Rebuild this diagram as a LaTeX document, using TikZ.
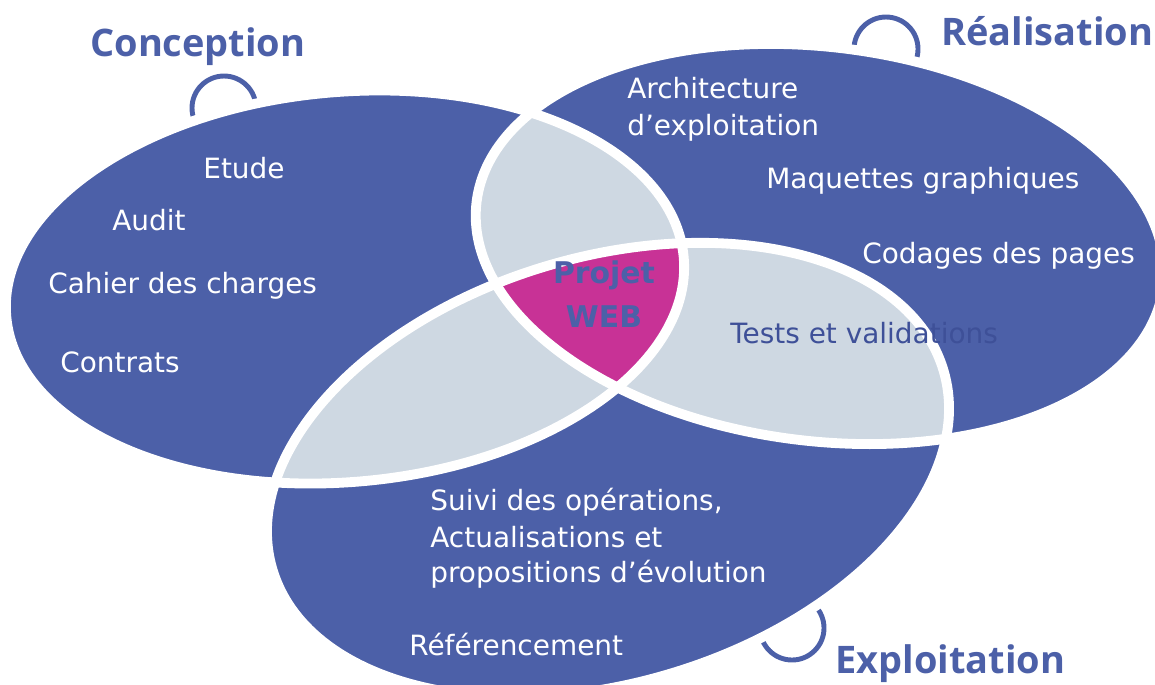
\documentclass[tikz,border=0pt]{standalone}
\usepackage{fontspec}
\setmainfont{DejaVu Sans}
\newfontfamily\titlefont{Open Sans}
\usetikzlibrary{positioning}

\definecolor{cycleblue}{RGB}{76,96,168}
\definecolor{inkblue}{RGB}{62,80,152}
\definecolor{overlap}{RGB}{206,216,226}
\definecolor{core}{RGB}{200,50,150}

\tikzset{
  % the three phases, each one a tilted ellipse
  conc/.style={rotate around={5:(345,287)}},
  real/.style={rotate around={-7:(820,244)}},
  expl/.style={rotate around={16.5:(608,470)}},
  rim/.style={draw=white, line width=5.6pt},
  hook/.style={draw=cycleblue, line width=2.8pt},
  item/.style={anchor=base west, inner sep=0pt, text=white,
    font=\fontsize{15.9}{18}\selectfont},
  phase/.style={anchor=base west, inner sep=0pt, text=cycleblue,
    font=\titlefont\bfseries\fontsize{21.6}{26}\selectfont}
}

\begin{document}
\begin{tikzpicture}[x=0.02cm, y=-0.02cm]
\useasboundingbox (0,0) rectangle (1155,684);

% little rings behind the ellipses
\draw[hook] (224,108) circle [radius=32];
\draw[hook] (886,49)  circle [radius=32];
\draw[hook] (792,628) circle [radius=32];

% phases
\fill[cycleblue, conc] (345,287) ellipse [x radius=340, y radius=195];
\fill[cycleblue, real] (820,244) ellipse [x radius=346, y radius=197];
\fill[cycleblue, expl] (608,470) ellipse [x radius=350, y radius=213];

% pairwise overlaps
\begin{scope}
  \clip[conc] (345,287) ellipse [x radius=340, y radius=195];
  \fill[overlap, real] (820,244) ellipse [x radius=346, y radius=197];
  \fill[overlap, expl] (608,470) ellipse [x radius=350, y radius=213];
\end{scope}
\begin{scope}
  \clip[real] (820,244) ellipse [x radius=346, y radius=197];
  \fill[overlap, expl] (608,470) ellipse [x radius=350, y radius=213];
\end{scope}

% common core
\begin{scope}
  \clip[conc] (345,287) ellipse [x radius=340, y radius=195];
  \clip[real] (820,244) ellipse [x radius=346, y radius=197];
  \fill[core, expl] (608,470) ellipse [x radius=350, y radius=213];
\end{scope}

% white rims
\draw[rim, conc] (345,287) ellipse [x radius=340, y radius=195];
\draw[rim, real] (820,244) ellipse [x radius=346, y radius=197];
\draw[rim, expl] (608,470) ellipse [x radius=350, y radius=213];

% titles
\node[phase] (conception)   at (90,56)   {Conception};
\node[phase] (realisation)  at (941,45)  {Réalisation};
\node[phase] (exploitation) at (835,673) {Exploitation};

% Conception
\node[item] (etude)   at (203,178) {Etude};
\node[item] (audit)   at (112,230) {Audit};
\node[item] (cahier)  at (48,293)  {Cahier des charges};
\node[item] (contrat) at (60,372)  {Contrats};

% Realisation
\node[item] (archi)    at (627,98)  {Architecture};
\node[item] (archi2)   at (627,135) {d’exploitation};
\node[item] (maquette) at (766,188) {Maquettes graphiques};
\node[item] (codage)   at (862,263) {Codages des pages};
\node[item, text=inkblue] (tests) at (730,343) {Tests et validations};

% Exploitation
\node[item] (suivi)  at (430,510) {Suivi des opérations,};
\node[item] (actu)   at (430,547) {Actualisations et};
\node[item] (propo)  at (430,582) {propositions d’évolution};
\node[item] (refer)  at (409,655) {Référencement};

% centre
\node[anchor=base, inner sep=0pt, text=cycleblue,
  font=\bfseries\fontsize{17}{20}\selectfont] (projet) at (604,283) {Projet};
\node[anchor=base, inner sep=0pt, text=cycleblue,
  font=\bfseries\fontsize{17}{20}\selectfont] (web) at (604,327) {WEB};
\end{tikzpicture}
\end{document}
